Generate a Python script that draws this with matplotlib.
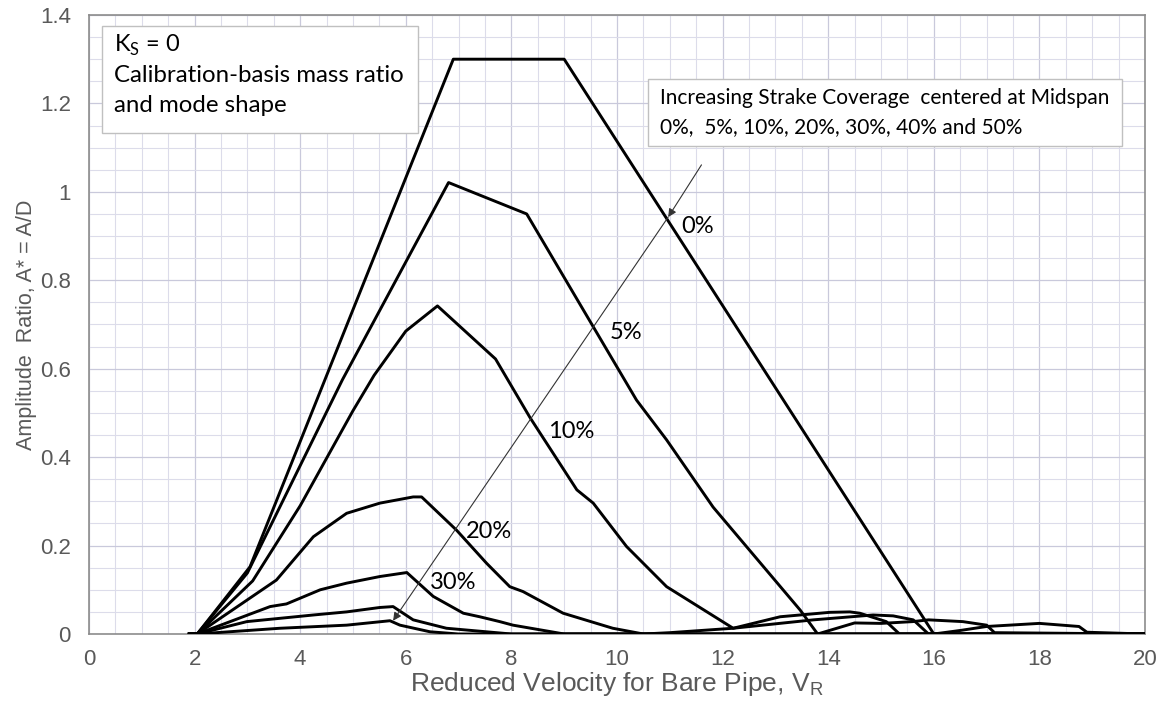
import matplotlib
matplotlib.use("Agg")
import matplotlib.pyplot as plt
from matplotlib.patches import Rectangle
from matplotlib.ticker import MultipleLocator

# amplitude curves, one per strake coverage
vr_0 = [1.9, 2.05, 3.05, 6.9, 9.0, 16.0, 16.5, 17.0, 18.0, 18.75, 18.9, 20.0]
a_0 = [0, 0, 0.152, 1.3, 1.3, 0, 0.008, 0.017, 0.024, 0.017, 0.004, 0]

vr_5 = [1.9, 2.05, 3.0, 4.8, 6.81, 8.29, 9.53, 10.37, 10.94, 11.82, 13.47, 13.8,
        14.5, 15.0, 15.6, 15.9, 16.55, 17.0, 17.15, 20.0]
a_5 = [0, 0, 0.138, 0.575, 1.021, 0.950, 0.699, 0.529, 0.439, 0.287, 0.054, 0.0,
       0.025, 0.024, 0.028, 0.032, 0.028, 0.02, 0.003, 0]

vr_10 = [1.9, 2.05, 3.1, 4.0, 5.0, 5.4, 6.0, 6.6, 7.7, 8.35, 9.24, 9.55, 10.18,
         10.94, 12.2, 13.09, 14.03, 14.41, 14.6, 15.1, 15.35, 20.0]
a_10 = [0, 0, 0.12, 0.29, 0.505, 0.585, 0.685, 0.742, 0.622, 0.49, 0.326, 0.296,
        0.198, 0.107, 0.013, 0.039, 0.049, 0.05, 0.047, 0.028, 0.0, 0]

vr_20 = [1.9, 2.05, 3.55, 4.25, 4.88, 5.51, 6.14, 6.3, 6.96, 7.53, 7.97, 8.22,
         8.98, 9.92, 10.5, 11.0, 12.2, 13.72, 14.85, 15.23, 15.61, 15.9, 20.0]
a_20 = [0, 0, 0.122, 0.22, 0.273, 0.296, 0.31, 0.31, 0.235, 0.16, 0.107, 0.096,
        0.047, 0.013, 0, 0.003, 0.013, 0.032, 0.043, 0.041, 0.032, 0.0, 0]

vr_30 = [1.9, 2.05, 3.43, 3.74, 4.38, 4.88, 5.51, 6.02, 6.52, 7.09, 7.4, 7.78,
         8.03, 9.0, 20.0]
a_30 = [0, 0, 0.062, 0.068, 0.1, 0.115, 0.13, 0.139, 0.085, 0.047, 0.039, 0.028,
        0.02, 0.0, 0]

vr_40 = [1.9, 2.05, 2.99, 4.25, 4.88, 5.51, 5.76, 6.14, 6.77, 8.0, 20.0]
a_40 = [0, 0, 0.028, 0.043, 0.05, 0.06, 0.062, 0.032, 0.013, 0.0, 0]

vr_50 = [1.9, 2.05, 3.62, 4.88, 5.7, 5.89, 6.46, 7.0, 20.0]
a_50 = [0, 0, 0.013, 0.02, 0.03, 0.02, 0.005, 0.0, 0]

curves = [(vr_0, a_0), (vr_5, a_5), (vr_10, a_10), (vr_20, a_20),
          (vr_30, a_30), (vr_40, a_40), (vr_50, a_50)]

# curve labels and where they sit
pct_labels = ["0%", "5%", "10%", "20%", "30%"]
pct_x = [11.53, 10.18, 9.14, 7.57, 6.9]
pct_y = [0.921, 0.683, 0.459, 0.232, 0.116]

label_font = "Lato"
grey = "#595959"

fig = plt.figure(figsize=(11.66, 7.13), dpi=100)
ax = fig.add_axes([0.0763, 0.1108, 0.9057, 0.8682])

for vr, a in curves:
    ax.plot(vr, a, color="black", linewidth=2.1, solid_joinstyle="round", zorder=3)

ax.set_xlim(0, 20)
ax.set_ylim(0, 1.4)
ax.xaxis.set_major_locator(MultipleLocator(2))
ax.xaxis.set_minor_locator(MultipleLocator(0.5))
ax.yaxis.set_major_locator(MultipleLocator(0.2))
ax.yaxis.set_minor_locator(MultipleLocator(0.05))
ax.grid(which="major", color="#c9c9db", linewidth=0.9)
ax.grid(which="minor", color="#dcdcea", linewidth=0.8)
ax.set_axisbelow(True)
ax.tick_params(which="both", length=0, labelsize=16, labelcolor=grey)
ax.tick_params(axis="x", pad=11)
ax.tick_params(axis="y", pad=13)
ax.set_yticks([0, 0.2, 0.4, 0.6, 0.8, 1.0, 1.2, 1.4])
ax.set_yticklabels(["0", "0.2", "0.4", "0.6", "0.8", "1", "1.2", "1.4"])
for t in ax.get_xticklabels() + ax.get_yticklabels():
    t.set_family("Liberation Sans")
for s in ax.spines.values():
    s.set_color("#8c8c8c")
    s.set_linewidth(1.2)

ax.set_xlabel("Reduced Velocity for Bare Pipe, V$_\\mathregular{R}$", fontsize=19,
              color=grey, family="Liberation Sans", labelpad=0)
ax.set_ylabel("Amplitude  Ratio, A* = A/D", fontsize=15.5, color=grey,
              family="Liberation Sans", labelpad=2)

# arrow across the curves
ax.annotate("", xy=(10.97, 0.943), xytext=(11.6, 1.061),
            arrowprops=dict(arrowstyle="-|>", color="#333333", lw=0.8,
                            mutation_scale=12, shrinkA=0, shrinkB=0))
ax.annotate("", xy=(5.76, 0.03), xytext=(10.97, 0.943),
            arrowprops=dict(arrowstyle="-|>", color="#333333", lw=0.8,
                            mutation_scale=12, shrinkA=0, shrinkB=0))

for lab, x, y in zip(pct_labels, pct_x, pct_y):
    ax.text(x, y, lab, fontsize=17, family=label_font, ha="center", va="center",
            zorder=4)

# text boxes
ax.add_patch(Rectangle((0.0123, 0.809), 0.2993, 0.173, transform=ax.transAxes,
                       facecolor="white", edgecolor="#c0c0c0", linewidth=1.0, zorder=5))
ax.text(0.0237, 0.951, "K$_\\mathregular{S}$ = 0", transform=ax.transAxes,
        fontsize=17, family=label_font, va="center", zorder=6)
ax.text(0.0237, 0.902, "Calibration-basis mass ratio", transform=ax.transAxes,
        fontsize=17.3, family=label_font, va="center", zorder=6)
ax.text(0.0237, 0.854, "and mode shape", transform=ax.transAxes,
        fontsize=17.3, family=label_font, va="center", zorder=6)

ax.add_patch(Rectangle((0.529, 0.788), 0.449, 0.109, transform=ax.transAxes,
                       facecolor="white", edgecolor="#c0c0c0", linewidth=1.0, zorder=5))
ax.text(0.5407, 0.866, "Increasing Strake Coverage  centered at Midspan",
        transform=ax.transAxes, fontsize=15, family=label_font, va="center", zorder=6)
ax.text(0.5407, 0.819, "0%,  5%, 10%, 20%, 30%, 40% and 50%",
        transform=ax.transAxes, fontsize=15, family=label_font, va="center", zorder=6)

fig.savefig("out.png", dpi=100)
